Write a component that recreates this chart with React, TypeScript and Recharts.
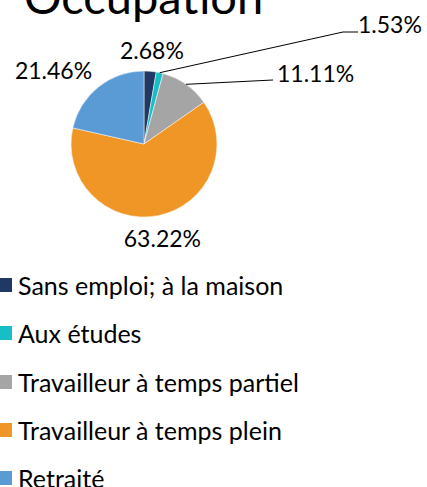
import { PieChart, Pie, Cell, Legend } from "recharts";

const categories = [
  "Sans emploi; à la maison",
  "Aux études",
  "Travailleur à temps partiel",
  "Travailleur à temps plein",
  "Retraité",
];
const shares = [2.68, 1.53, 11.11, 63.22, 21.46];
const colors = ["#1F3864", "#17BEC6", "#A5A5A5", "#EF9626", "#5B9BD5"];

const data = categories.map((name, i) => ({ name, value: shares[i] }));

const FONT = "Lato, 'Noto Sans', sans-serif";
const RAD = Math.PI / 180;

const renderLabel = (props: any) => {
  const { cx, cy, midAngle, outerRadius, value, index } = props;
  const text = `${value.toFixed(2)}%`;
  const sx = cx + outerRadius * Math.cos(-midAngle * RAD);
  const sy = cy + outerRadius * Math.sin(-midAngle * RAD);

  if (index === 1) {
    return (
      <g>
        <polyline
          points={`${sx},${sy} ${cx + 199},${cy - 112} ${cx + 214},${cy - 112}`}
          fill="none"
          stroke="#000"
          strokeWidth={1}
        />
        <text x={cx + 214} y={cy - 120} fontSize={23} fontFamily={FONT} fill="#000" dominantBaseline="central">
          {text}
        </text>
      </g>
    );
  }
  if (index === 2) {
    return (
      <g>
        <polyline
          points={`${sx},${sy} ${cx + 129},${cy - 64}`}
          fill="none"
          stroke="#000"
          strokeWidth={1}
        />
        <text x={cx + 133} y={cy - 71} fontSize={23} fontFamily={FONT} fill="#000" dominantBaseline="central">
          {text}
        </text>
      </g>
    );
  }
  // plain labels placed outside the slice
  const tweak: Record<number, [number, number]> = {
    0: [21, 0],
    3: [23, 0],
    4: [44, 12],
  };
  const [dr, da] = tweak[index] || [20, 0];
  const a = (midAngle + da) * RAD;
  const x = cx + (outerRadius + dr) * Math.cos(-a);
  const y = cy + (outerRadius + dr) * Math.sin(-a);
  return (
    <text x={x} y={y} fontSize={23} fontFamily={FONT} fill="#000" textAnchor="middle" dominantBaseline="central">
      {text}
    </text>
  );
};

const renderLegend = (props: any) => {
  const payload = [...(props.payload || [])].sort(
    (a: any, b: any) => categories.indexOf(a.value) - categories.indexOf(b.value)
  );
  return (
    <div>
      {payload.map((entry: any, i: number) => (
        <div
          key={i}
          style={{ display: "flex", alignItems: "center", height: 48.3, fontFamily: FONT, fontSize: 25, color: "#000" }}
        >
          <span style={{ width: 12, height: 14, background: entry.color, marginRight: 6, display: "inline-block" }} />
          {entry.value}
        </div>
      ))}
    </div>
  );
};

export default function App() {
  return (
    <div style={{ position: "absolute", left: 0, top: 0, width: 427, height: 487, background: "#fff", overflow: "hidden" }}>
      <div
        style={{
          position: "absolute",
          left: 24,
          top: -31,
          fontFamily: FONT,
          fontSize: 47,
          lineHeight: "54px",
          color: "#000",
          zIndex: 2,
        }}
      >
        Occupation
      </div>
      <PieChart width={427} height={487} margin={{ top: 0, right: 0, bottom: 0, left: 0 }}>
        <Pie
          data={data}
          dataKey="value"
          nameKey="name"
          cx={144}
          cy={144}
          outerRadius={73}
          startAngle={90}
          endAngle={-270}
          stroke="#fff"
          strokeWidth={0.5}
          label={renderLabel}
          labelLine={false}
          isAnimationActive={false}
        >
          {data.map((d, i) => (
            <Cell key={d.name} fill={colors[i]} />
          ))}
        </Pie>
        <Legend
          layout="vertical"
          verticalAlign="bottom"
          content={renderLegend}
          wrapperStyle={{ top: 261, left: 0, width: 420, bottom: "auto" }}
        />
      </PieChart>
    </div>
  );
}
